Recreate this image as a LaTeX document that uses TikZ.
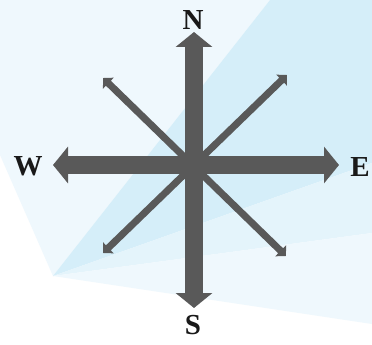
\documentclass[tikz,border=0pt]{standalone}
\usepackage{fontspec}
\setmainfont{Liberation Serif}
\usetikzlibrary{arrows.meta}

\definecolor{skydark}{HTML}{D5EEF9}
\definecolor{skymid}{HTML}{E4F4FB}
\definecolor{skylight}{HTML}{EFF8FD}
\definecolor{needle}{HTML}{595959}

\begin{document}
\begin{tikzpicture}[x=1pt, y=-1pt,
    mainarrow/.style={needle, line width=18pt, {Triangle[width=36pt,length=15pt]}-{Triangle[width=36pt,length=15pt]}},
    diagarrow/.style={needle, line width=7pt, {Triangle[width=15pt,length=7.5pt]}-{Triangle[width=15pt,length=7.5pt]}},
    letter/.style={font=\fontsize{29}{29}\selectfont\bfseries, text=black!90, inner sep=0pt}]
  % Background
  \fill[white] (0,0) rectangle (372,345);
  \useasboundingbox (0,0) rectangle (372,345);
  \coordinate (apex) at (53,276);
  \fill[skylight] (0,0) -- (270,0) -- (apex) -- (0,155) -- cycle;
  \fill[skydark] (270,0) -- (372,0) -- (372,163) -- (apex) -- cycle;
  \fill[skymid] (apex) -- (372,163) -- (372,233) -- cycle;
  \fill[skylight] (apex) -- (372,233) -- (372,324) -- cycle;

  % Arrow tips
  \coordinate (n) at (194,32);
  \coordinate (s) at (194,308);
  \coordinate (w) at (53,165);
  \coordinate (e) at (339,165);
  \coordinate (ne) at (287,75);
  \coordinate (sw) at (103,253);
  \coordinate (nw) at (103,78);
  \coordinate (se) at (286,256);

  % Diagonal arrows
  \draw[diagarrow] (sw) -- (ne);
  \draw[diagarrow] (se) -- (nw);

  % Main arrows
  \draw[mainarrow] (s) -- (n);
  \draw[mainarrow] (w) -- (e);

  % Labels
  \node[letter] (north) at (193,20) {N};
  \node[letter] (south) at (193,325) {S};
  \node[letter] (west) at (28,166) {W};
  \node[letter] (east) at (360,167) {E};
\end{tikzpicture}
\end{document}
